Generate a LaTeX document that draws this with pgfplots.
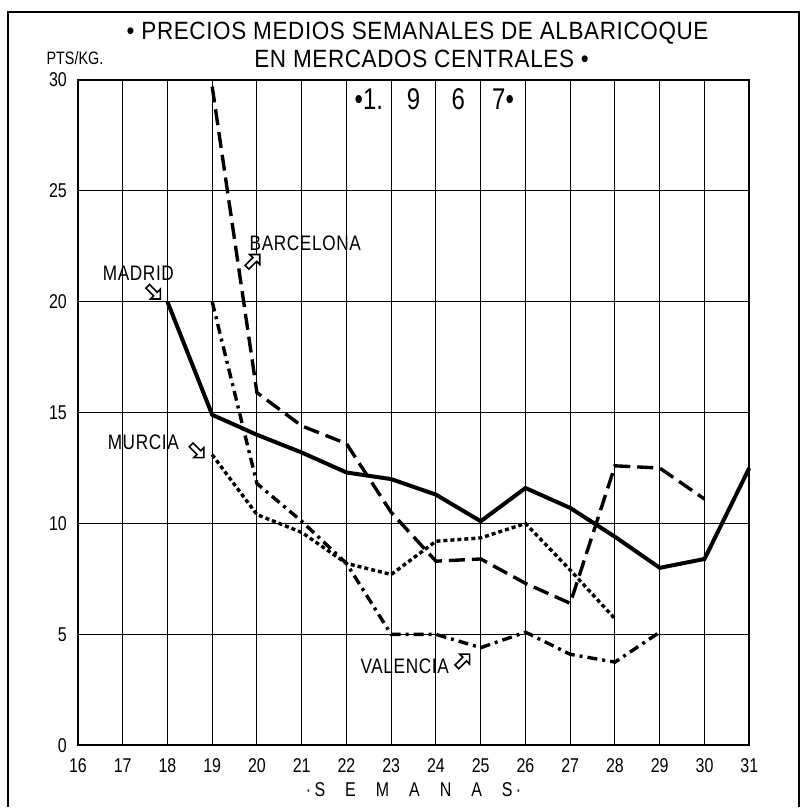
\documentclass[border=0pt]{standalone}
\usepackage{fontspec}
\setmainfont{Liberation Sans}
\newfontfamily\cond[FakeStretch=0.8]{Liberation Sans}
\newfontfamily\tcond[FakeStretch=0.9,LetterSpace=2.5]{Liberation Sans}
\newfontfamily\lcond[FakeStretch=0.82,LetterSpace=3]{Liberation Sans}
\usepackage{pgfplots}
\pgfplotsset{compat=1.18}
\usetikzlibrary{shapes.arrows}
\begin{document}
\begin{tikzpicture}
\tikzset{arr/.style={single arrow, draw=black, fill=white, line width=0.8pt, minimum height=9pt, minimum width=7pt, single arrow head extend=1.5pt, inner sep=0.5pt},
 lab/.style={font=\lcond\fontsize{10.5}{11}\selectfont},
 yr/.style={font=\cond\fontsize{15}{16}\selectfont, fill=white, inner sep=1pt}}
\begin{axis}[
 scale only axis, width=336pt, height=333pt,
 xmin=16, xmax=31, ymin=0, ymax=30,
 xtick={16,...,31}, ytick={0,5,...,30},
 grid=major, major grid style={black, line width=0.5pt},
 axis line style={line width=1pt},
 tick style={draw=none},
 ticklabel style={font=\cond\fontsize{10}{11}\selectfont},
 xticklabel style={yshift=-3pt},
 yticklabel style={xshift=-2pt},
 /pgf/number format/assume math mode=true,
 clip=false,
]
\addplot[black, line width=2pt] coordinates {(18,20)(19,14.9)(20,14.0)(21,13.2)(22,12.3)(23,12.0)(24,11.3)(25,10.1)(26,11.6)(27,10.7)(28,9.4)(29,8.0)(30,8.4)(31,12.5)};
\addplot[black, line width=1.7pt, dash pattern=on 8pt off 3.5pt] coordinates {(19,29.7)(20,15.9)(21,14.4)(22,13.6)(23,10.5)(24,8.3)(25,8.4)(26,7.3)(27,6.4)(28,12.6)(29,12.5)(30,11.1)};
\addplot[black, line width=1.7pt, dash pattern=on 2pt off 1.5pt] coordinates {(19,13.1)(20,10.4)(21,9.6)(22,8.2)(23,7.7)(24,9.2)(25,9.35)(26,10.0)(27,7.9)(28,5.7)};
\addplot[black, line width=1.7pt, dash pattern=on 5pt off 2.5pt on 1.5pt off 2.5pt] coordinates {(19,20)(20,11.8)(21,10.1)(22,8.2)(23,5.0)(24,5.0)(25,4.4)(26,5.1)(27,4.1)(28,3.75)(29,5.1)};

\node[lab] at (axis cs:17.35,21.3) {MADRID};
\node[arr, rotate=-45] at (axis cs:17.68,20.45) {};
\node[lab, anchor=west] at (axis cs:19.68,22.65) {BARCELONA};
\node[arr, rotate=45] at (axis cs:19.9,21.8) {};
\node[lab] at (axis cs:17.46,13.65) {MURCIA};
\node[arr, rotate=-45] at (axis cs:18.65,13.3) {};
\node[lab] at (axis cs:23.3,3.55) {VALENCIA};
\node[arr, rotate=45] at (axis cs:24.59,3.78) {};

\node[yr] at (axis cs:22.5,29.15) {•1.};
\node[yr] at (axis cs:23.5,29.15) {9};
\node[yr] at (axis cs:24.5,29.15) {6};
\node[yr] at (axis cs:25.5,29.15) {7•};
\end{axis}
\node[font=\tcond\fontsize{12.5}{13}\selectfont, anchor=base] at (170pt,353pt) {• PRECIOS MEDIOS SEMANALES DE ALBARICOQUE};
\node[font=\tcond\fontsize{12.5}{13}\selectfont, anchor=base] at (172pt,339pt) {EN MERCADOS CENTRALES •};
\node[font=\cond\fontsize{9}{10}\selectfont, anchor=base] at (-1.5pt,340.5pt) {PTS/KG.};
\node[font=\cond\fontsize{10}{11}\selectfont] at (168pt,-22pt) {·\,S\quad E\quad M\quad A\quad N\quad A\quad S\,·};
\draw[line width=0.8pt] (-35pt,-31pt) -- (-35pt,367pt) -- (361pt,367pt) -- (361pt,-31pt);
\path[use as bounding box] (-39pt,-31pt) rectangle (363pt,373pt);
\end{tikzpicture}
\end{document}
